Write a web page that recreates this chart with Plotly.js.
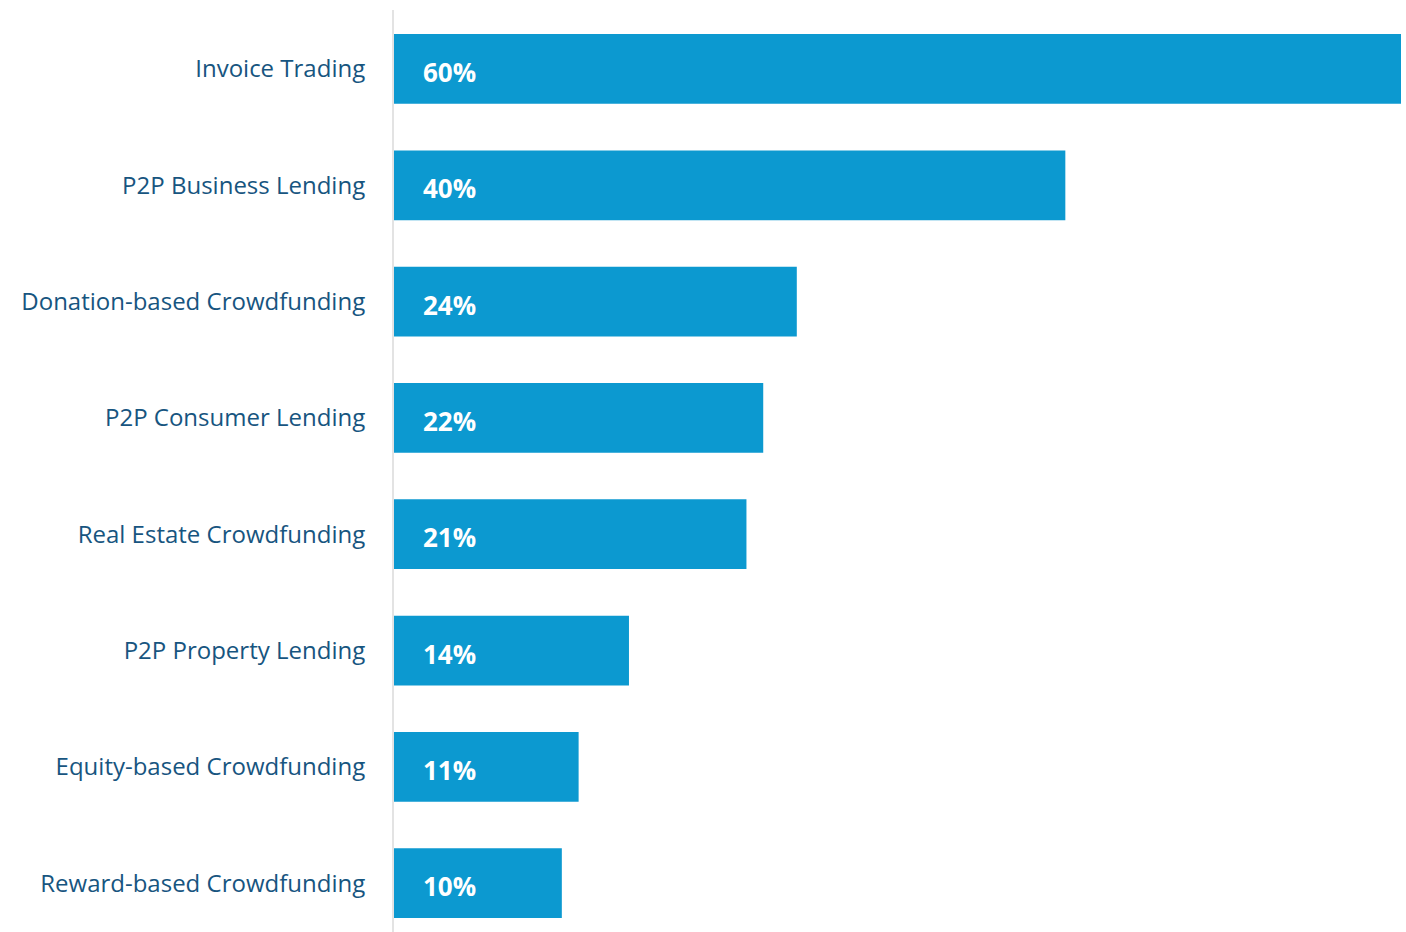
<!DOCTYPE html>
<html>
<head>
<meta charset="utf-8">
<script src="https://cdn.plot.ly/plotly-3.0.1.min.js"></script>
<style>html,body{margin:0;padding:0;background:#fff;}#chart{width:1406px;height:932px;}</style>
</head>
<body>
<div id="chart"></div>
<script>
const categories = ["Invoice Trading","P2P Business Lending","Donation-based Crowdfunding","P2P Consumer Lending","Real Estate Crowdfunding","P2P Property Lending","Equity-based Crowdfunding","Reward-based Crowdfunding"];
const values = [60,40,24,22,21,14,11,10];
const valueLabels = values.map(v => v + "%");

const trace = {
  type: "bar",
  orientation: "h",
  x: values,
  y: categories,
  width: 0.6,
  marker: {color: "#0C99D0"},
  hoverinfo: "none"
};

const annotations = categories.map((c, i) => ({
  x: 0, y: c, xref: "x", yref: "y",
  text: "<b>" + valueLabels[i] + "</b>",
  showarrow: false, xanchor: "left", yanchor: "middle",
  xshift: 27, yshift: -3,
  font: {family: "Open Sans, sans-serif", size: 26, color: "#ffffff"}
}));

const layout = {
  width: 1406, height: 932,
  margin: {l: 394, r: 5, t: 10, b: 0, pad: 0},
  paper_bgcolor: "#fff", plot_bgcolor: "#fff",
  showlegend: false,
  bargap: 0.4,
  xaxis: {range: [0, 60], visible: false, fixedrange: true},
  yaxis: {
    type: "category",
    range: [7.42, -0.507],
    showline: true, linecolor: "#e3e3e3", linewidth: 2,
    showgrid: false, zeroline: false,
    ticks: "outside", ticklen: 22, tickcolor: "rgba(0,0,0,0)",
    tickfont: {family: "Open Sans, sans-serif", size: 24, color: "#17557F"}
  },
  annotations: annotations
};

Plotly.newPlot("chart", [trace], layout, {displayModeBar: false, staticPlot: true});
</script>
</body>
</html>
